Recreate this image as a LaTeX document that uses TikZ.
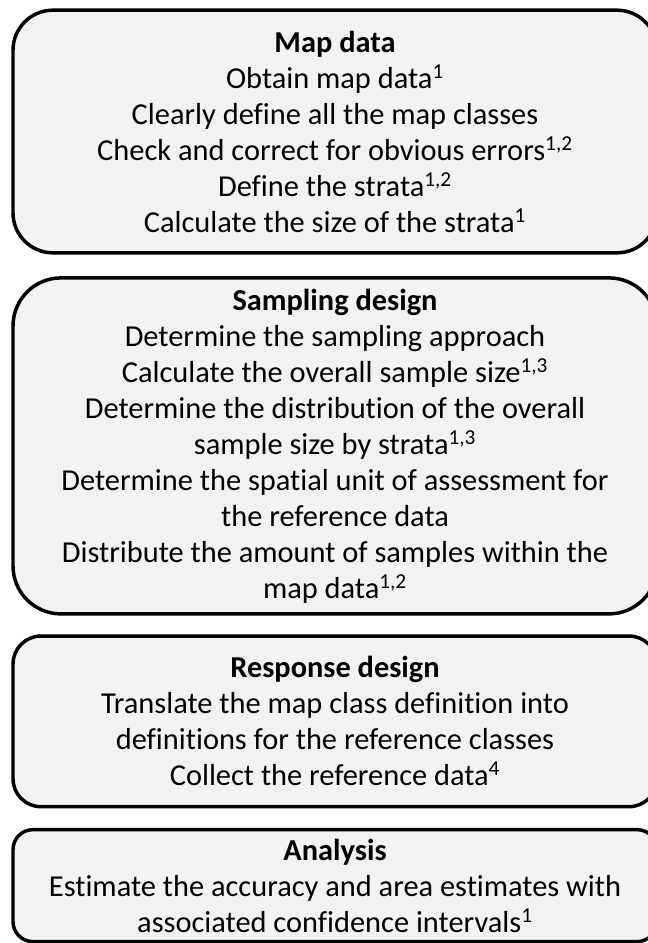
\documentclass[tikz,border=0pt]{standalone}
\usepackage{fontspec}
\setmainfont{Carlito}[Ligatures={NoCommon}]
\usepackage{tikz}
\usetikzlibrary{positioning}
\definecolor{boxgray}{HTML}{F2F2F2}
\tikzset{
    stagebox/.style={draw,fill=boxgray,line width=2.6pt,align=center,
        minimum width=483pt,inner sep=0pt,
        font=\fontsize{22.8}{27}\selectfont}
}

\begin{document}
\begin{tikzpicture}[x=0.75pt,y=-0.75pt,node distance=16pt]
    \clip (0,0) rectangle (648,943);
    \useasboundingbox (0,0) rectangle (648,943);

    % Stages of the assessment
    \node[stagebox,rounded corners=30pt,minimum height=182pt] (mapdata) at (335,131.5)
        {\textbf{Map data}\\
         Obtain map data\textsuperscript{1}\\
         Clearly define all the map classes\\
         Check and correct for obvious errors\textsuperscript{1,2}\\
         Define the strata\textsuperscript{1,2}\\
         Calculate the size of the strata\textsuperscript{1}};
    \node[stagebox,rounded corners=36pt,minimum height=252pt,below=16.2pt of mapdata] (sampling)
        {\textbf{Sampling design}\\
         Determine the sampling approach\\
         Calculate the overall sample size\textsuperscript{1,3}\\
         Determine the distribution of the overall\\
         sample size by strata\textsuperscript{1,3}\\
         Determine the spatial unit of assessment for\\
         the reference data\\
         Distribute the amount of samples within the\\
         map data\textsuperscript{1,2}};
    \node[stagebox,rounded corners=21pt,minimum height=128pt,below=14pt of sampling] (response)
        {\textbf{Response design}\\
         Translate the map class definition into\\
         definitions for the reference classes\\
         Collect the reference data\textsuperscript{4}};
    \node[stagebox,rounded corners=15pt,minimum height=84pt,below=14.6pt of response] (analysis)
        {\textbf{Analysis}\\
         Estimate the accuracy and area estimates with\\
         associated confidence intervals\textsuperscript{1}};
\end{tikzpicture}
\end{document}
